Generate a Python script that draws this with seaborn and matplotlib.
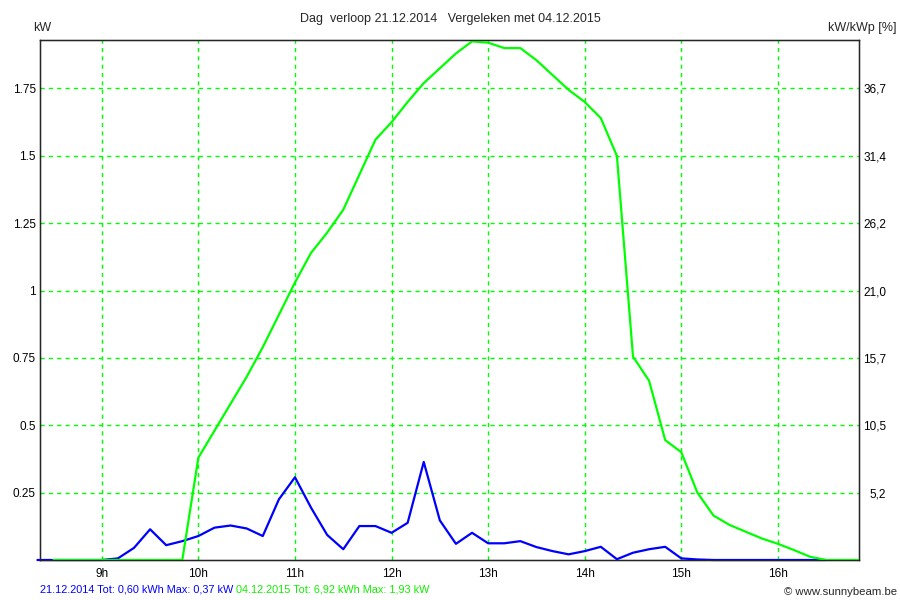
import numpy as np
import pandas as pd
import matplotlib
matplotlib.use('Agg')
import matplotlib.pyplot as plt
import seaborn as sns

# sampled every 10 minutes
# 21.12.2014, from 08:20 to 16:30 (kW)
kw_2014 = [0, 0, 0, 0,
           0, 0.006, 0.045, 0.114, 0.055, 0.07,
           0.089, 0.12, 0.128, 0.117, 0.089, 0.225,
           0.307, 0.194, 0.093, 0.04, 0.126, 0.126,
           0.101, 0.138, 0.364, 0.147, 0.06, 0.101,
           0.062, 0.062, 0.07, 0.048, 0.033, 0.021,
           0.033, 0.049, 0.003, 0.027, 0.04, 0.049,
           0.006, 0.002, 0, 0, 0, 0,
           0, 0, 0, 0]
# 04.12.2015, from 08:30 to 16:50 (kW)
kw_2015 = [0, 0, 0,
           0, 0, 0, 0, 0, 0,
           0.38, 0.48, 0.58, 0.68, 0.79, 0.91,
           1.03, 1.14, 1.215, 1.30, 1.43, 1.56,
           1.625, 1.70, 1.77, 1.825, 1.88, 1.925,
           1.92, 1.90, 1.90, 1.855, 1.80, 1.745,
           1.70, 1.64, 1.50, 0.755, 0.665, 0.445,
           0.40, 0.25, 0.165, 0.13, 0.105, 0.08,
           0.06, 0.037, 0.012, 0, 0, 0]

start_2014 = 8 * 60 + 20
start_2015 = 8 * 60 + 30
hours_2014 = (start_2014 + 10 * np.arange(len(kw_2014))) / 60
hours_2015 = (start_2015 + 10 * np.arange(len(kw_2015))) / 60

hour_ticks = [9, 10, 11, 12, 13, 14, 15, 16]
hour_labels = ['9h', '10h', '11h', '12h', '13h', '14h', '15h', '16h']
kw_ticks = [0.25, 0.5, 0.75, 1, 1.25, 1.5, 1.75]
kw_labels = ['0.25', '0.5', '0.75', '1', '1.25', '1.5', '1.75']
pct_labels = ['5,2', '10,5', '15,7', '21,0', '26,2', '31,4', '36,7']

title = 'Dag  verloop 21.12.2014   Vergeleken met 04.12.2015'
info_2014 = '21.12.2014 Tot: 0,60 kWh Max: 0,37 kW '
info_2015 = '04.12.2015 Tot: 6,92 kWh Max: 1,93 kW'

BLUE = '#0000ff'
GREEN = '#00ff00'

sns.set_style('white')
plt.rcParams['font.family'] = ['Liberation Sans', 'DejaVu Sans']
plt.rcParams['font.size'] = 8

df14 = pd.DataFrame({'hour': hours_2014, 'kw': kw_2014})
df15 = pd.DataFrame({'hour': hours_2015, 'kw': kw_2015})

fig = plt.figure(figsize=(9, 6), dpi=100)
ax = fig.add_axes([40 / 900, 40 / 600, 819 / 900, 520 / 600])

sns.lineplot(data=df14, x='hour', y='kw', color=BLUE, lw=1.6, ax=ax,
             clip_on=False, zorder=4)
sns.lineplot(data=df15, x='hour', y='kw', color=GREEN, lw=1.6, ax=ax,
             clip_on=False, zorder=5)

ax.set_xlim(8.36, 16.84)
ax.set_ylim(0, 1.93)
ax.set_xticks(hour_ticks)
ax.set_xticklabels(hour_labels)
ax.set_yticks(kw_ticks)
ax.set_yticklabels(kw_labels)
ax.set_xlabel('')
ax.set_ylabel('')
ax.tick_params(length=0, pad=3, labelsize=8.5, colors='black')
ax.tick_params(axis='x', pad=6)
ax.grid(True, color=GREEN, ls=(0, (3, 3)), lw=1.0)
for s in ax.spines.values():
    s.set_color('black')
    s.set_linewidth(1.0)

# right axis in kW/kWp [%]
ax2 = ax.twinx()
ax2.set_ylim(ax.get_ylim())
ax2.set_yticks(kw_ticks)
ax2.set_yticklabels(pct_labels)
ax2.tick_params(length=0, pad=19.5, labelsize=8.5, colors='black')
for lab in ax2.get_yticklabels():
    lab.set_horizontalalignment('right')
ax2.grid(False)

fig.text(0.5, 1 - 19 / 600, title, ha='center', va='center', fontsize=9)
fig.text(33 / 900, 1 - 28 / 600, 'kW', ha='left', va='center', fontsize=9)
fig.text(897 / 900, 1 - 28 / 600, 'kW/kWp [%]', ha='right', va='center', fontsize=9)

t1 = fig.text(40 / 900, 1 - 589 / 600, info_2014, color=BLUE, ha='left',
              va='center', fontsize=7.8)
fig.canvas.draw()
bb = t1.get_window_extent()
fig.text(bb.x1 / 900, 1 - 589 / 600, info_2015, color='#11ee00', ha='left',
         va='center', fontsize=7.8)
fig.text(897 / 900, 1 - 592 / 600, '\u00a9 www.sunnybeam.be', ha='right',
         va='center', fontsize=8.2)

fig.savefig('out.png', dpi=100)
